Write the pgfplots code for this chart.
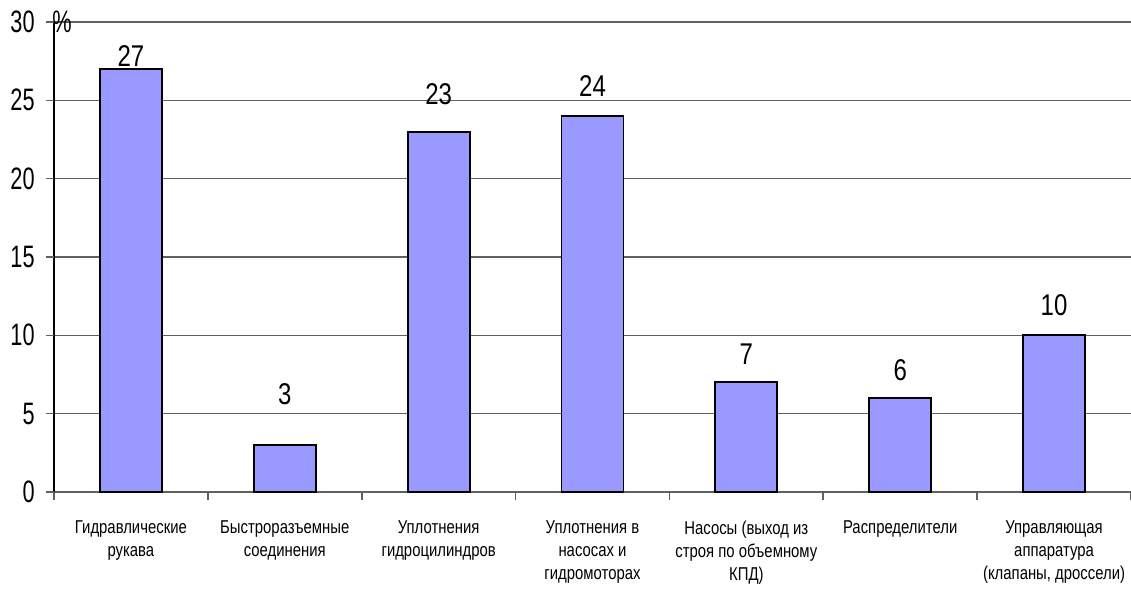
\documentclass[border=0pt]{standalone}
\usepackage{fontspec}
\setmainfont{Liberation Sans}
\newfontfamily\narrow[FakeStretch=0.8]{Liberation Sans}
\newfontfamily\vnarrow[FakeStretch=0.7]{Liberation Sans}
\usepackage{pgfplots}
\pgfplotsset{compat=1.18}
\usepackage{pgfplotstable}
\definecolor{barblue}{HTML}{9999FF}
\definecolor{gridgray}{HTML}{606060}
\pgfplotstableread{
x y off
1 27 6.5
2 3 25.5
3 23 18.5
4 24 15
5 7 14
6 6 14
7 10 15
}\datatable
\begin{document}
\begin{tikzpicture}
\begin{axis}[
  scale only axis,
  width=538.5pt, height=235pt,
  xmin=0.5, xmax=7.5,
  ymin=0, ymax=30,
  ytick={0,5,...,30},
  ymajorgrids,
  grid style={gridgray, line width=0.8pt},
  axis x line*=bottom,
  axis y line*=left,
  x axis line style={gridgray, line width=0.9pt, -},
  y axis line style={black, line width=0.9pt, -},
  xtick align=outside, ytick align=inside,
  major tick length=4pt,
  ytick style={draw=none},
  xtick={0.5,1.5,...,7.5},
  xticklabels={},
  xtick style={draw=gridgray, line width=0.8pt},
  extra x ticks={1,...,7},
  extra x tick style={major tick length=0pt, tick style={draw=none}, grid=none},
  extra x tick labels={{Гидравлические\\рукава},{Быстроразъемные\\соединения},{Уплотнения\\гидроцилиндров},{Уплотнения в\\насосах и\\гидромоторах},{Насосы (выход из\\строя по объемному\\КПД)},{Распределители},{Управляющая\\аппаратура\\(клапаны, дроссели)}},
  xticklabel style={font=\narrow\fontsize{9.3}{11.5}\selectfont, align=center, anchor=north, yshift=-11pt},
  yticklabel style={font=\vnarrow\fontsize{15.5}{17}\selectfont, anchor=east, inner sep=0pt, xshift=-9.5pt},
  /pgf/number format/assume math mode=true,
  ybar, bar width=31pt,
  nodes near coords,
  visualization depends on={\thisrow{off} \as \myoff},
  every node near coord/.append style={font=\narrow\fontsize{15}{17}\selectfont, anchor=center, yshift=\myoff pt},
  clip=false,
]
\addplot[fill=barblue, draw=black, line width=0.9pt] table[x=x, y=y] {\datatable};
\draw[gridgray, line width=0.8pt] (axis cs:0.5,0) -- ++(-4pt,0pt);
\draw[gridgray, line width=0.8pt] (axis cs:0.5,5) -- ++(-4pt,0pt);
\draw[gridgray, line width=0.8pt] (axis cs:0.5,10) -- ++(-4pt,0pt);
\draw[gridgray, line width=0.8pt] (axis cs:0.5,15) -- ++(-4pt,0pt);
\draw[gridgray, line width=0.8pt] (axis cs:0.5,20) -- ++(-4pt,0pt);
\draw[gridgray, line width=0.8pt] (axis cs:0.5,25) -- ++(-4pt,0pt);
\draw[gridgray, line width=0.8pt] (axis cs:0.5,30) -- ++(-4pt,0pt);
\node[anchor=west, font=\vnarrow\fontsize{15.5}{17}\selectfont, inner sep=0pt] at (axis cs:0.5,30) {\hspace*{-1pt}\%};
\end{axis}
\pgfresetboundingbox
\path (current axis.south west) ++(-27pt,-49.5pt) coordinate (bl);
\path (current axis.north east) ++(0pt,11pt) coordinate (tr);
\useasboundingbox (bl) rectangle (tr);
\end{tikzpicture}
\end{document}
